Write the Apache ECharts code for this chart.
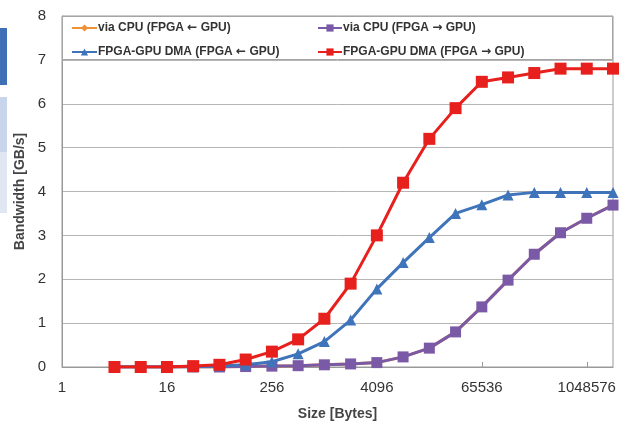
<!DOCTYPE html>
<html><head><meta charset="utf-8">
<script src="https://cdn.jsdelivr.net/npm/echarts@6/dist/echarts.min.js"></script>
<style>html,body{margin:0;padding:0;background:#fff}#c{width:623px;height:426px}</style>
</head><body><div id="c"></div>
<script>
const sizes = [4,8,16,32,64,128,256,512,1024,2048,4096,8192,16384,32768,65536,131072,262144,524288,1048576,2097152];
const viaCpuToCpu = [0,0,0,0,0,0.01,0.02,0.03,0.05,0.07,0.1,0.23,0.43,0.8,1.37,1.98,2.57,3.06,3.39,3.69];
const viaCpuToGpu = [0,0,0,0,0,0.01,0.02,0.03,0.05,0.07,0.1,0.23,0.43,0.8,1.37,1.98,2.57,3.06,3.39,3.69];
const dmaFromGpu = [0,0,0,0.01,0.02,0.05,0.12,0.3,0.58,1.07,1.78,2.38,2.95,3.5,3.7,3.92,3.98,3.98,3.98,3.98];
const dmaToGpu = [0,0,0,0.02,0.05,0.17,0.35,0.63,1.1,1.9,3.0,4.2,5.2,5.9,6.5,6.6,6.7,6.8,6.8,6.8];
const yTicks = [0,1,2,3,4,5,6,7,8];
const names = ['via CPU (FPGA ← GPU)','via CPU (FPGA → GPU)','FPGA-GPU DMA (FPGA ← GPU)','FPGA-GPU DMA (FPGA → GPU)'];

const pts = v => sizes.map((s,i)=>[s,v[i]]);
const chart = echarts.init(document.getElementById('c'));
const font = 'Liberation Sans, Arial, sans-serif';
const mk = (name,data,color,symbol,size,z) => ({
  name, type:'line', data:pts(data), symbol, symbolSize:size, z,
  lineStyle:{color, width:3}, itemStyle:{color}, emphasis:{disabled:true}, animation:false
});
const legendText = {fontSize:12,fontWeight:'bold',color:'#333',fontFamily:font,padding:[0,0,0,-4],
  rich:{a:{fontSize:12,fontFamily:'DejaVu Sans',color:'#333'}}};
const legendFmt = n => n.replace(/([←→])/g,'{a|$1}');
chart.setOption({
  animation:false,
  textStyle:{fontFamily:font},
  grid:{left:62,right:10,top:16,bottom:59,show:true,borderColor:'#999',borderWidth:1,containLabel:false},
  graphic:[
    {type:'rect',shape:{x:0,y:28,width:7,height:57},style:{fill:'#3f6fb5'},silent:true},
    {type:'rect',shape:{x:0,y:97,width:7,height:55},style:{fill:'#c9d5ea'},silent:true},
    {type:'rect',shape:{x:0,y:152,width:7,height:61},style:{fill:'#e1e7f2'},silent:true},
    {type:'rect',shape:{x:62.5,y:16.5,width:550,height:43},style:{fill:'#fff',stroke:'#a5a5a5',lineWidth:1},z:5,silent:true}
  ],
  legend:[
    {data:[names[0],names[2]],orient:'vertical',left:71,top:22,padding:0,itemGap:12,itemWidth:25,itemHeight:9,z:10,
     formatter:legendFmt,textStyle:legendText},
    {data:[names[1],names[3]],orient:'vertical',left:317,top:22,padding:0,itemGap:12,itemWidth:24,itemHeight:9,z:10,
     formatter:legendFmt,textStyle:legendText}
  ],
  xAxis:{type:'log',logBase:16,min:1,max:2097152,
    name:'Size [Bytes]',nameLocation:'middle',nameGap:40,
    nameTextStyle:{fontSize:14,fontWeight:'bold',color:'#444'},
    axisLine:{lineStyle:{color:'#999'}},
    axisTick:{inside:true,length:5,lineStyle:{color:'#999'}},
    splitLine:{show:false},minorTick:{show:false},
    axisLabel:{fontSize:15,color:'#333',margin:13,showMaxLabel:false,formatter:v=>String(Math.round(v))}},
  yAxis:{type:'value',min:yTicks[0],max:yTicks[yTicks.length-1],interval:1,
    name:'Bandwidth [GB/s]',nameLocation:'middle',nameGap:33,
    nameTextStyle:{fontSize:14,fontWeight:'bold',color:'#444'},
    axisLine:{show:true,lineStyle:{color:'#999'}},
    axisTick:{show:false},
    splitLine:{lineStyle:{color:'#b5b5b5'}},
    axisLabel:{fontSize:15,color:'#333',margin:16}},
  series:[
    mk(names[0],viaCpuToCpu,'#ef9138','diamond',10,2),
    mk(names[1],viaCpuToGpu,'#7a5aa6','rect',11,3),
    mk(names[2],dmaFromGpu,'#3f74bb','triangle',11,4),
    mk(names[3],dmaToGpu,'#e8201d','rect',12,5)
  ]
});
</script></body></html>
